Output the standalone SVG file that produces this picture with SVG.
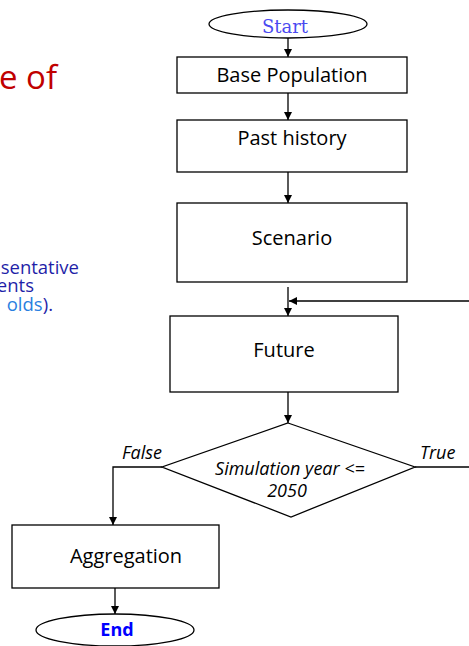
<svg xmlns="http://www.w3.org/2000/svg" width="469" height="646" viewBox="0 0 469 646">
<style>
.box{fill:#fff;stroke:#000;stroke-width:1.3}
.lbl{font-family:"Open Sans","Noto Sans",sans-serif;font-size:20px;fill:#000;text-anchor:middle}
.it{font-family:"Open Sans","Noto Sans",sans-serif;font-size:18px;font-style:italic;fill:#000}
.ln{fill:none;stroke:#000;stroke-width:1.3}
.side{font-family:"Open Sans","Noto Sans",sans-serif;font-size:18.5px;fill:#1F1FA8;text-anchor:end}
</style>
<defs>
<marker id="ah" markerWidth="8" markerHeight="8" refX="8" refY="4" orient="auto" markerUnits="userSpaceOnUse">
<path d="M0,0 L8,4 L0,8 Z" fill="#000"/>
</marker>
</defs>
<rect width="469" height="646" fill="#fff"/>
<g id="side-text">
<text x="57" y="89" font-family="'Open Sans','Noto Sans',sans-serif" font-size="33" fill="#C00000" text-anchor="end">e of</text>
<text class="side" x="79" y="274">sentative</text>
<text class="side" x="34" y="292">ents</text>
<text class="side" x="53" y="311"><tspan fill="#2A7FE0">olds</tspan>).</text>
</g>
<g id="connectors">
<line class="ln" x1="288" y1="38" x2="288" y2="57" marker-end="url(#ah)"/>
<line class="ln" x1="288" y1="93" x2="288" y2="120" marker-end="url(#ah)"/>
<line class="ln" x1="288" y1="172" x2="288" y2="203" marker-end="url(#ah)"/>
<line class="ln" x1="288" y1="287" x2="288" y2="316" marker-end="url(#ah)"/>
<line class="ln" x1="470" y1="301" x2="289" y2="301" stroke="#333" marker-end="url(#ah)"/>
<line class="ln" x1="288" y1="392" x2="288" y2="423" marker-end="url(#ah)"/>
<polyline class="ln" points="162,467 113,467 113,525" marker-end="url(#ah)"/>
<line class="ln" x1="415" y1="467" x2="470" y2="467"/>
<line class="ln" x1="115" y1="588" x2="115" y2="614" marker-end="url(#ah)"/>
</g>
<g id="start">
<ellipse cx="288" cy="24" rx="79" ry="14" class="box"/>
<text x="285" y="33" font-family="'DejaVu Serif',serif" font-size="18" fill="#4A4AF0" text-anchor="middle">Start</text>
</g>
<g id="base-population">
<rect x="177" y="57" width="230" height="36" class="box"/>
<text class="lbl" x="292" y="82">Base Population</text>
</g>
<g id="past-history">
<rect x="177" y="120" width="230" height="52" class="box"/>
<text class="lbl" x="292" y="145">Past history</text>
</g>
<g id="scenario">
<rect x="177" y="203" width="230" height="79" class="box"/>
<text class="lbl" x="292" y="245">Scenario</text>
</g>
<g id="future">
<rect x="170" y="316" width="228" height="76" class="box"/>
<text class="lbl" x="284" y="357">Future</text>
</g>
<g id="decision">
<polygon points="288,423 415,467 291,517 162,467" class="box"/>
<text class="it" x="290" y="475" text-anchor="middle">Simulation year &lt;=</text>
<text class="it" x="287" y="497" text-anchor="middle">2050</text>
<text class="it" x="122" y="459">False</text>
<text class="it" x="420" y="459">True</text>
</g>
<g id="aggregation">
<rect x="12" y="525" width="207" height="63" class="box"/>
<text class="lbl" x="126" y="563">Aggregation</text>
</g>
<g id="end">
<ellipse cx="115" cy="630" rx="79" ry="16" class="box"/>
<text x="117" y="636" font-family="'Open Sans','Noto Sans',sans-serif" font-size="18" font-weight="bold" fill="#0000FF" text-anchor="middle">End</text>
</g>
</svg>
